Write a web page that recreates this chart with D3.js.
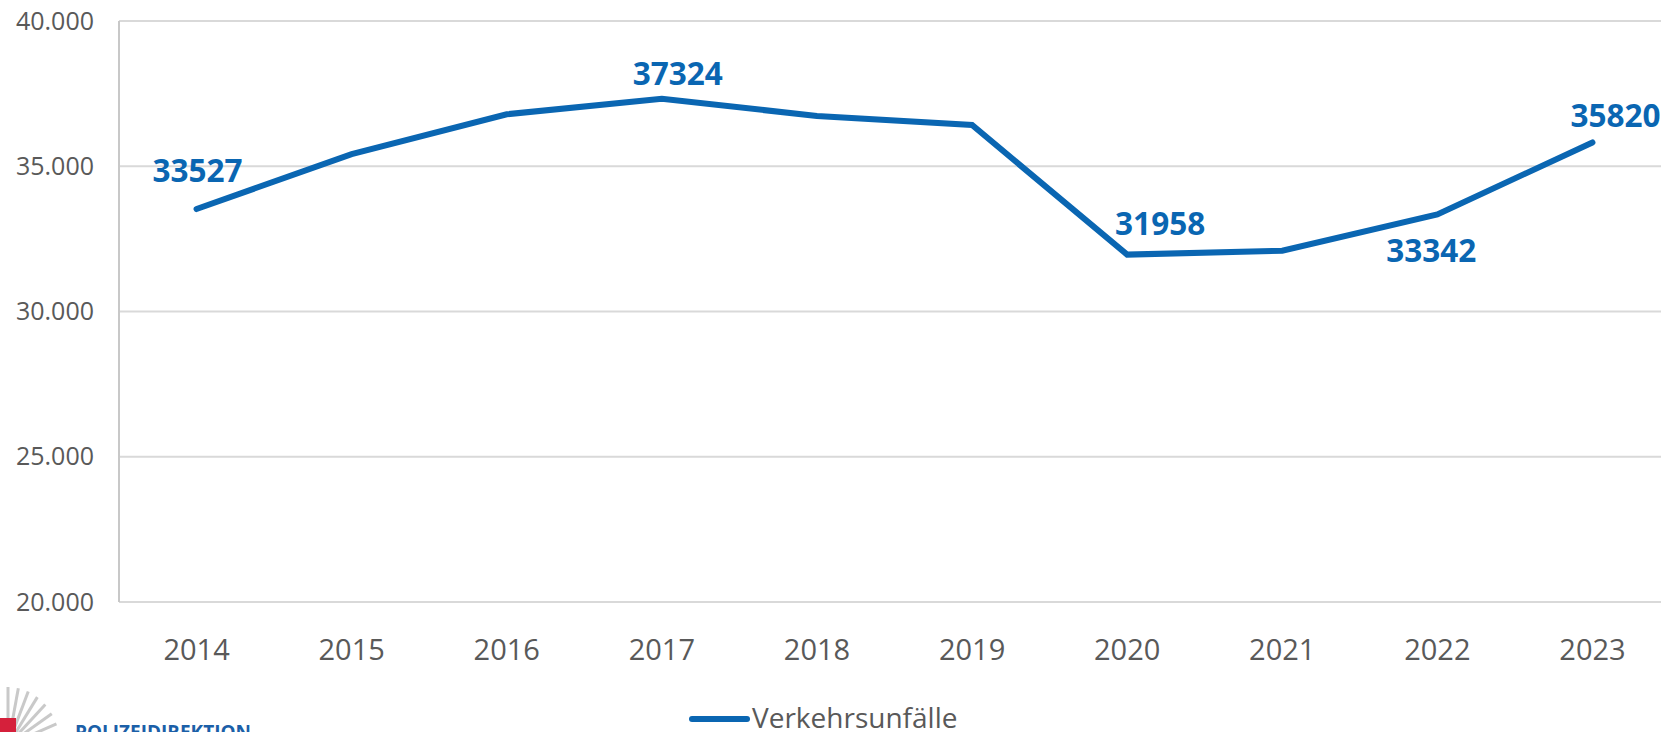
<!DOCTYPE html>
<html lang="de">

<head>
  <meta charset="UTF-8">
  <title>Verkehrsunfälle</title>
  <script src="https://d3js.org/d3.v7.min.js"></script>
  <style>
    body {
      margin: 0;
      background: #fff;
      font-family: "Open Sans", "Noto Sans", sans-serif;
    }

    .grid line {
      stroke: #d9d9d9;
      stroke-width: 2;
    }

    .tick text {
      fill: #595959;
    }
  </style>
</head>

<body>
  <div id="chart"></div>

  <script>
    // Data
    const years = ["2014", "2015", "2016", "2017", "2018", "2019", "2020", "2021", "2022", "2023"];
    const accidents = [33527, 35420, 36790, 37324, 36730, 36420, 31958, 32090, 33342, 35820];
    const labelled = [33527, null, null, 37324, null, null, 31958, null, 33342, 35820];
    const yTicks = [20000, 25000, 30000, 35000, 40000];
    const seriesName = "Verkehrsunfälle";

    // label placement (dx, dy from the point)
    const labelOffset = [[1, -27], null, null, [16, -14], null, null, [33, -20], null, [-6, 48], [23, -15]];

    const W = 1661, H = 732;
    const margin = { top: 21, left: 119, bottom: 130 };
    const plotW = 1551;
    const plotH = 581;
    const blue = "#0a66b2";

    const svg = d3.select("#chart").append("svg")
      .attr("width", W)
      .attr("height", H);

    const x = d3.scaleBand().domain(years).range([margin.left, margin.left + plotW]);
    const y = d3.scaleLinear().domain([20000, 40000]).range([margin.top + plotH, margin.top]);

    const fmt = d => d3.format(",")(d).replace(/,/g, ".");

    // horizontal gridlines
    svg.append("g")
      .attr("class", "grid")
      .selectAll("line")
      .data(yTicks)
      .join("line")
      .attr("x1", margin.left)
      .attr("x2", margin.left + plotW)
      .attr("y1", d => y(d))
      .attr("y2", d => y(d));

    // left axis line
    svg.append("line")
      .attr("x1", margin.left).attr("x2", margin.left)
      .attr("y1", y(40000)).attr("y2", y(20000))
      .attr("stroke", "#c8c8c8")
      .attr("stroke-width", 2);

    // y axis labels
    svg.append("g")
      .attr("transform", `translate(${margin.left},0)`)
      .call(d3.axisLeft(y).tickValues(yTicks).tickFormat(fmt).tickSize(0).tickPadding(25))
      .call(g => g.select(".domain").remove())
      .call(g => g.selectAll("text")
        .attr("font-size", "25px")
        .attr("font-family", "'Open Sans', sans-serif"));

    // x axis labels
    svg.append("g")
      .attr("transform", `translate(0,${y(20000)})`)
      .call(d3.axisBottom(x).tickSize(0).tickPadding(37))
      .call(g => g.select(".domain").remove())
      .call(g => g.selectAll("text")
        .attr("font-size", "29px")
        .attr("font-family", "'Open Sans', sans-serif"));

    // line
    const line = d3.line()
      .x((d, i) => x(years[i]) + x.bandwidth() / 2)
      .y(d => y(d));

    svg.append("path")
      .datum(accidents)
      .attr("fill", "none")
      .attr("stroke", blue)
      .attr("stroke-width", 6)
      .attr("stroke-linejoin", "miter")
      .attr("stroke-linecap", "round")
      .attr("d", line);

    // data labels
    svg.append("g")
      .selectAll("text")
      .data(labelled.map((v, i) => ({ v, i })).filter(d => d.v !== null))
      .join("text")
      .attr("x", d => x(years[d.i]) + x.bandwidth() / 2 + labelOffset[d.i][0])
      .attr("y", d => y(accidents[d.i]) + labelOffset[d.i][1])
      .attr("text-anchor", "middle")
      .attr("font-size", "31.5px")
      .attr("font-weight", "bold")
      .attr("fill", blue)
      .text(d => d.v);

    // legend
    const legend = svg.append("g").attr("transform", "translate(692,719)");
    legend.append("line")
      .attr("x1", 0).attr("x2", 55)
      .attr("stroke", blue)
      .attr("stroke-width", 6)
      .attr("stroke-linecap", "round");
    legend.append("text")
      .attr("x", 60)
      .attr("y", 9)
      .attr("font-size", "28px")
      .attr("fill", "#595959")
      .text(seriesName);

    // logo (cut off at the bottom)
    const logo = svg.append("g");
    logo.selectAll("line")
      .data(d3.range(0, 8))
      .join("line")
      .attr("x1", 8)
      .attr("y1", 745)
      .attr("x2", d => 8 + 52 * Math.cos(-Math.PI / 2 + d * 0.2))
      .attr("y2", d => 745 + 58 * Math.sin(-Math.PI / 2 + d * 0.2))
      .attr("stroke", "#c9c9c9")
      .attr("stroke-width", 3);
    logo.append("rect")
      .attr("x", 0).attr("y", 718)
      .attr("width", 16).attr("height", 20)
      .attr("fill", "#d5203b");
    logo.append("text")
      .attr("x", 75)
      .attr("y", 739)
      .attr("font-size", "19px")
      .attr("font-weight", "bold")
      .attr("fill", "#1b5fa8")
      .text("POLIZEIDIREKTION");
  </script>
</body>

</html>
